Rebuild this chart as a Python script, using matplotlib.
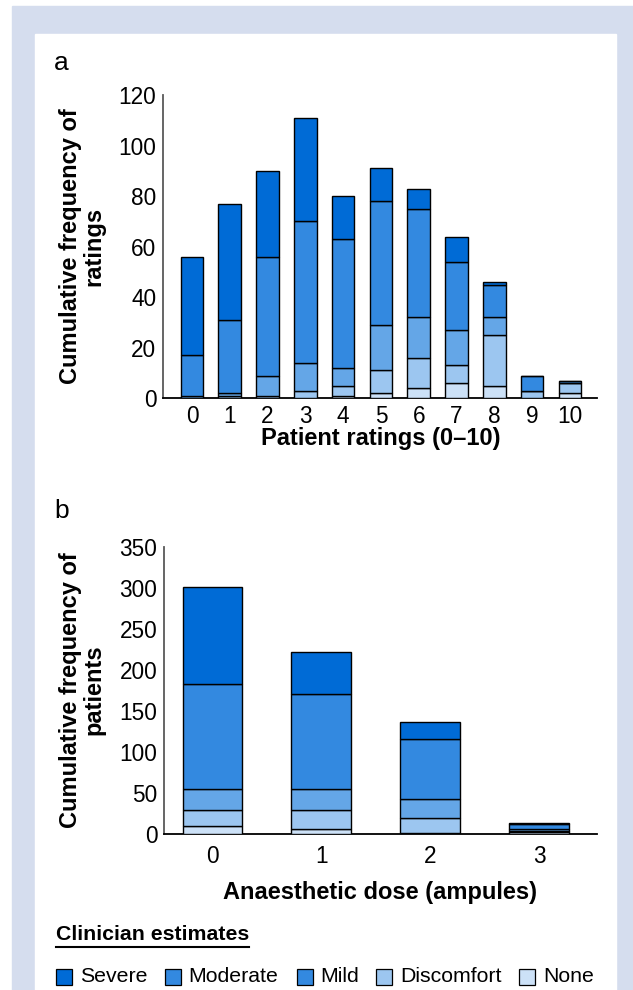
import matplotlib
matplotlib.use("Agg")
import matplotlib.pyplot as plt
import matplotlib.patches as mpatches
import numpy as np

plt.rcParams['font.family'] = ['Liberation Sans', 'DejaVu Sans']

W, H = 633, 990

# Panel a: patient ratings 0-10, stacked by clinician estimate
ratings = list(range(11))
a_none       = [0, 0, 0, 0, 1, 2, 4, 6, 5, 0, 2]
a_discomfort = [0, 1, 1, 3, 4, 9, 12, 7, 20, 3, 4]
a_mild       = [1, 1, 8, 11, 7, 18, 16, 14, 7, 0, 0]
a_moderate   = [16, 29, 47, 56, 51, 49, 43, 27, 13, 6, 1]
a_severe     = [39, 46, 34, 41, 17, 13, 8, 10, 1, 0, 0]

# Panel b: anaesthetic dose (ampules)
doses = [0, 1, 2, 3]
b_none       = [9, 6, 1, 2]
b_discomfort = [20, 23, 18, 1]
b_mild       = [26, 26, 23, 3]
b_moderate   = [128, 116, 74, 6]
b_severe     = [119, 51, 21, 1]

labels = ['Severe', 'Moderate', 'Mild', 'Discomfort', 'None']
colors = {'Severe': '#006BD6', 'Moderate': '#3389E0', 'Mild': '#64A6E7',
          'Discomfort': '#9CC6F0', 'None': '#CCE1F7'}

fig = plt.figure(figsize=(W / 100, H / 100), dpi=100)
fig.patch.set_facecolor('white')

# background band and white card
fig.patches.append(mpatches.Rectangle((12 / W, 0), (W - 12) / W, (H - 6) / H,
                                      transform=fig.transFigure, color='#D5DDEE', zorder=-5))
fig.patches.append(mpatches.Rectangle((35 / W, 0), (616 - 35) / W, (H - 34) / H,
                                      transform=fig.transFigure, color='white', zorder=-4))


def px_axes(x0, x1, ytop, ybot):
    return fig.add_axes([x0 / W, (H - ybot) / H, (x1 - x0) / W, (ybot - ytop) / H])


def stack(ax, x, series, width):
    bottom = np.zeros(len(x))
    for name, vals in series:
        vals = np.array(vals, dtype=float)
        ax.bar(x, vals, width, bottom=bottom, color=colors[name],
               edgecolor='black', linewidth=1.0, zorder=3)
        bottom += vals


def style(ax, xpad):
    ax.set_facecolor('none')
    for s in ['top', 'right']:
        ax.spines[s].set_visible(False)
    ax.spines['left'].set_color('#595959')
    ax.spines['left'].set_linewidth(1.3)
    ax.spines['bottom'].set_color('black')
    ax.spines['bottom'].set_linewidth(1.3)
    ax.tick_params(axis='y', length=0, pad=5, labelsize=16.3)
    ax.tick_params(axis='x', length=0, pad=xpad, labelsize=16.3)


# ---- panel a ----
ax1 = px_axes(163.3, 596.7, 95, 398.3)
stack(ax1, ratings, [('None', a_none), ('Discomfort', a_discomfort), ('Mild', a_mild),
                     ('Moderate', a_moderate), ('Severe', a_severe)], 0.6)
ax1.set_xlim(-0.76, 10.71)
ax1.set_ylim(0, 120)
ax1.set_yticks(range(0, 121, 20))
ax1.set_xticks(ratings)
ax1.set_xticklabels([str(r) for r in ratings])
style(ax1, 5)
fig.text(82 / W, 1 - 246 / H, 'Cumulative frequency of\nratings', rotation=90,
         ha='center', va='center', fontsize=17, fontweight='bold', multialignment='center',
         linespacing=1.05)
fig.text(381 / W, 1 - 438 / H, 'Patient ratings (0–10)', ha='center', va='center',
         fontsize=17, fontweight='bold')
fig.text(54 / W, 1 - 63 / H, 'a', ha='left', va='center', fontsize=19)

# ---- panel b ----
ax2 = px_axes(164.3, 596.7, 547.3, 833.7)
stack(ax2, doses, [('None', b_none), ('Discomfort', b_discomfort), ('Mild', b_mild),
                   ('Moderate', b_moderate), ('Severe', b_severe)], 0.55)
ax2.set_xlim(-0.443, 3.53)
ax2.set_ylim(0, 350)
ax2.set_yticks(range(0, 351, 50))
ax2.set_xticks(doses)
style(ax2, 8)
fig.text(82 / W, 1 - 690 / H, 'Cumulative frequency of\npatients', rotation=90,
         ha='center', va='center', fontsize=17, fontweight='bold', multialignment='center',
         linespacing=1.05)
fig.text(380 / W, 1 - 893 / H, 'Anaesthetic dose (ampules)', ha='center', va='center',
         fontsize=17, fontweight='bold')
fig.text(54 / W, 1 - 511 / H, 'b', ha='left', va='center', fontsize=19)

# ---- legend ----
fig.text(56 / W, 1 - 935 / H, 'Clinician estimates', ha='left', va='center',
         fontsize=15.3, fontweight='bold')
fig.add_artist(plt.Line2D([56 / W, 249 / W], [1 - 947 / H, 1 - 947 / H],
                          transform=fig.transFigure, color='black', linewidth=1.5))
leg_colors = ['#006BD6', '#3389E0', '#3389E0', '#9CC6F0', '#CCE1F7']
sq_x = [56, 165, 297, 376, 519]
txt_x = [80, 188, 320, 400, 543]
for lab, c, sx, tx in zip(labels, leg_colors, sq_x, txt_x):
    fig.patches.append(mpatches.Rectangle((sx / W, 1 - 985 / H), 16 / W, 16 / H,
                                          transform=fig.transFigure, facecolor=c,
                                          edgecolor='black', linewidth=0.9))
    fig.text(tx / W, 1 - 977 / H, lab, ha='left', va='center', fontsize=15.3)

fig.savefig('out.png', dpi=100)
